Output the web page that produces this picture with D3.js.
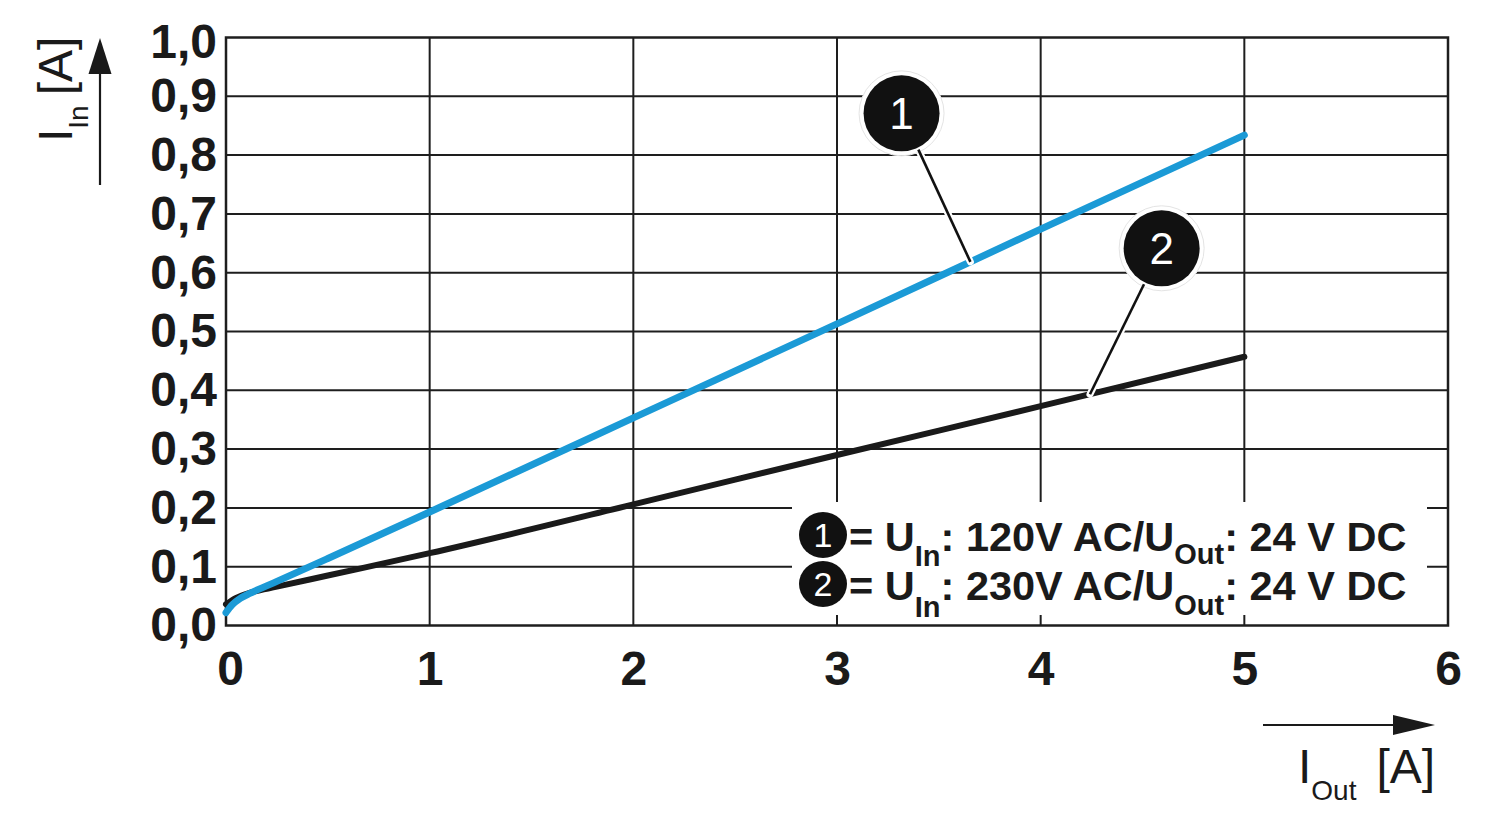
<!DOCTYPE html>
<html>
<head>
<meta charset="utf-8">
<script src="https://cdn.jsdelivr.net/npm/d3@7"></script>
<style>
  html, body { margin: 0; padding: 0; background: #fff; }
  svg { display: block; font-family: "Liberation Sans", Arial, Helvetica, sans-serif; }
</style>
</head>
<body>
<svg id="chart" width="1500" height="825"></svg>
<script>
// ---------- data ----------
const xTicks = [0, 1, 2, 3, 4, 5, 6];
const yTicks = [0, 0.1, 0.2, 0.3, 0.4, 0.5, 0.6, 0.7, 0.8, 0.9, 1.0];

// Series 1: U_In 120V AC (blue)
const series1X = [0, 0.03, 0.07, 0.12, 0.25, 0.5, 1, 2, 3, 4, 5];
const series1Y = [0.022, 0.035, 0.046, 0.055, 0.075, 0.114, 0.193, 0.353, 0.513, 0.674, 0.834];
// Series 2: U_In 230V AC (black)
const series2X = [0, 0.05, 0.12, 0.25, 0.5, 1, 2, 3, 4, 5];
const series2Y = [0.036, 0.047, 0.056, 0.066, 0.085, 0.123, 0.206, 0.290, 0.373, 0.457];

const seriesNumbers = ["1", "2"];
const seriesVoltIn = ["120V AC", "230V AC"];
const seriesVoltOut = ["24 V DC", "24 V DC"];
const seriesColors = ["#1b9ad6", "#1a1a1a"];

// callout positions (data coords): circle center, and x where leader touches curve
const calloutCenterX = [3.317, 4.594];
const calloutCenterY = [0.871, 0.6415];
const calloutTargetX = [3.655, 4.242];

// ---------- layout ----------
const svg = d3.select("#chart");
const x = d3.scaleLinear().domain([0, 6]).range([226, 1448]);
const y = d3.scaleLinear().domain([0, 1]).range([625.5, 37.5]);

const gridColor = "#1e1e1e";

// gridlines
const grid = svg.append("g");
grid.selectAll("line.v").data(xTicks.slice(1, -1)).join("line")
  .attr("x1", d => x(d)).attr("x2", d => x(d))
  .attr("y1", y(0)).attr("y2", y(1))
  .attr("stroke", gridColor).attr("stroke-width", 2);
grid.selectAll("line.h").data(yTicks.slice(1, -1)).join("line")
  .attr("x1", x(0)).attr("x2", x(6))
  .attr("y1", d => y(d)).attr("y2", d => y(d))
  .attr("stroke", gridColor).attr("stroke-width", 2);
grid.append("rect")
  .attr("x", x(0)).attr("y", y(1))
  .attr("width", x(6) - x(0)).attr("height", y(0) - y(1))
  .attr("fill", "none").attr("stroke", gridColor).attr("stroke-width", 2.5);

// axes (labels only)
const fmt = d => d.toFixed(1).replace(".", ",");
const yAxis = svg.append("g").attr("transform", `translate(${x(0)},0)`)
  .call(d3.axisLeft(y).tickValues(yTicks).tickFormat(fmt).tickSize(0).tickPadding(9));
const xAxis = svg.append("g").attr("transform", `translate(0,${y(0)})`)
  .call(d3.axisBottom(x).tickValues(xTicks).tickFormat(d3.format("d")).tickSize(0).tickPadding(25));
[yAxis, xAxis].forEach(g => {
  g.select(".domain").remove();
  g.selectAll("text")
    .attr("font-family", "'Liberation Sans', Arial, sans-serif")
    .attr("font-size", 48).attr("font-weight", "bold").attr("fill", "#1a1a1a");
});
yAxis.selectAll(".tick").filter(d => d === 1).select("text").attr("dy", "0.42em");
xAxis.selectAll(".tick").filter(d => d === 0).select("text").attr("dx", 4);

// lines
const line = d3.line().x(d => x(d[0])).y(d => y(d[1])).curve(d3.curveMonotoneX);
const s1 = series1X.map((v, i) => [v, series1Y[i]]);
const s2 = series2X.map((v, i) => [v, series2Y[i]]);
const allSeries = [s1, s2];

svg.append("path").datum(s2).attr("d", line)
  .attr("fill", "none").attr("stroke", seriesColors[1]).attr("stroke-width", 6)
  .attr("stroke-linecap", "round");
svg.append("path").datum(s1).attr("d", line)
  .attr("fill", "none").attr("stroke", seriesColors[0]).attr("stroke-width", 7)
  .attr("stroke-linecap", "round");

// interpolate series
function interp(series, xv) {
  for (let i = 1; i < series.length; i++) {
    if (xv <= series[i][0]) {
      const [x0, y0] = series[i - 1], [x1, y1] = series[i];
      return y0 + (y1 - y0) * (xv - x0) / (x1 - x0);
    }
  }
  return series[series.length - 1][1];
}

// callouts
const R = 38;
seriesNumbers.forEach((num, i) => {
  const cx = x(calloutCenterX[i]), cy = y(calloutCenterY[i]);
  const tx = x(calloutTargetX[i]), ty = y(interp(allSeries[i], calloutTargetX[i]));
  const dx = tx - cx, dy = ty - cy, L = Math.hypot(dx, dy);
  const sx = cx + dx / L * (R + 2), sy = cy + dy / L * (R + 2);
  const g = svg.append("g");
  g.append("line").attr("x1", sx).attr("y1", sy).attr("x2", tx).attr("y2", ty)
    .attr("stroke", "#fff").attr("stroke-width", 7).attr("stroke-linecap", "round");
  g.append("circle").attr("cx", cx).attr("cy", cy).attr("r", R + 4.5)
    .attr("fill", "#fff").attr("stroke", "#e4e4e4").attr("stroke-width", 1);
  g.append("line").attr("x1", sx).attr("y1", sy).attr("x2", tx).attr("y2", ty)
    .attr("stroke", "#111").attr("stroke-width", 2.6);
  g.append("circle").attr("cx", cx).attr("cy", cy).attr("r", R).attr("fill", "#111");
  g.append("text").attr("x", cx).attr("y", cy + 16).attr("text-anchor", "middle")
    .attr("font-size", 44).attr("fill", "#fff").text(num);
});

// legend
const leg = svg.append("g");
leg.append("rect").attr("x", 792).attr("y", 502).attr("width", 635).attr("height", 113)
  .attr("fill", "#fff");
const rowBase = [551, 600];
const subDy = [15, 17];
seriesNumbers.forEach((num, i) => {
  const b = rowBase[i];
  leg.append("ellipse").attr("cx", 823).attr("cy", b - 16).attr("rx", 24).attr("ry", 23)
    .attr("fill", "#111");
  leg.append("text").attr("x", 823).attr("y", b - 4).attr("text-anchor", "middle")
    .attr("font-size", 34).attr("fill", "#fff").text(num);
  const t = leg.append("text").attr("x", 849).attr("y", b)
    .attr("font-size", 41.5).attr("font-weight", "bold").attr("fill", "#1a1a1a");
  t.append("tspan").text("= U");
  t.append("tspan").attr("font-size", 29).attr("dy", subDy[i]).text("In");
  t.append("tspan").attr("dy", -subDy[i]).text(": " + seriesVoltIn[i] + "/U");
  t.append("tspan").attr("font-size", 29).attr("dy", subDy[i] - 2).text("Out");
  t.append("tspan").attr("dy", -(subDy[i] - 2)).text(": " + seriesVoltOut[i]);
});

// axis titles with arrows
const arrowColor = "#1a1a1a";
// Y arrow
svg.append("line").attr("x1", 100).attr("x2", 100).attr("y1", 185).attr("y2", 70)
  .attr("stroke", arrowColor).attr("stroke-width", 2.2);
svg.append("path").attr("d", "M100,38 L111.5,74 L88.5,74 Z").attr("fill", arrowColor);
const yt = svg.append("text").attr("transform", "translate(72,142) rotate(-90)")
  .attr("font-size", 48).attr("fill", "#1a1a1a");
yt.append("tspan").text("I");
yt.append("tspan").attr("font-size", 28).attr("dy", 16).text("In");
yt.append("tspan").attr("dy", -16).attr("dx", 10).text("[A]");

// X arrow
svg.append("line").attr("x1", 1263).attr("x2", 1398).attr("y1", 725).attr("y2", 725)
  .attr("stroke", arrowColor).attr("stroke-width", 2.2);
svg.append("path").attr("d", "M1435,725 L1393,735 L1393,715 Z").attr("fill", arrowColor);
const xt = svg.append("text").attr("x", 1298).attr("y", 783)
  .attr("font-size", 48).attr("fill", "#1a1a1a");
xt.append("tspan").text("I");
xt.append("tspan").attr("font-size", 28).attr("dy", 17).text("Out");
xt.append("tspan").attr("dy", -17).attr("dx", 20).text("[A]");
</script>
</body>
</html>
